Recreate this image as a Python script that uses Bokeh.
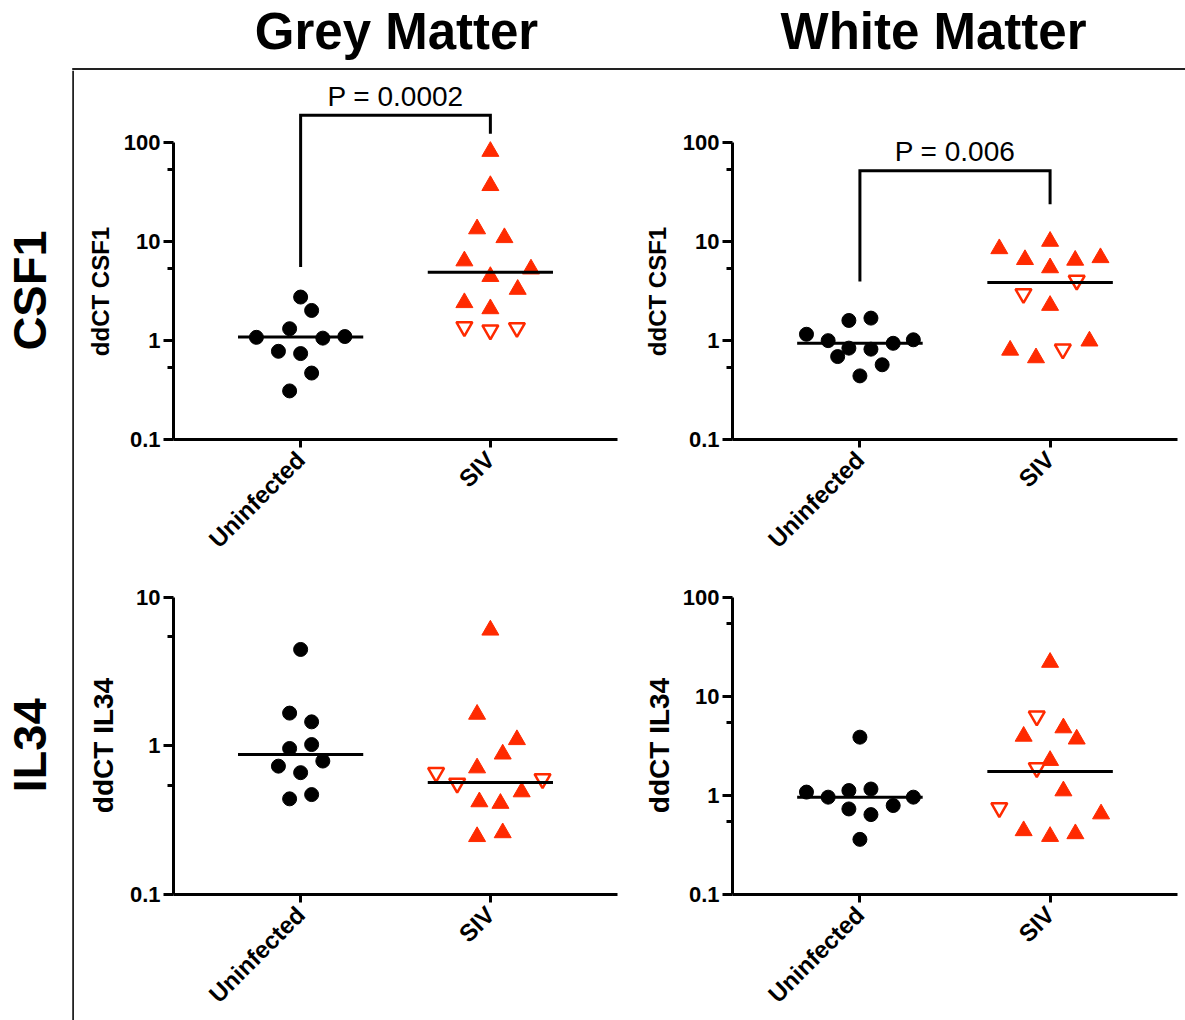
import numpy as np
from bokeh.plotting import figure
from bokeh.layouts import row, column
from bokeh.models import Range1d, FixedTicker, CustomJSTickFormatter
from bokeh.core.properties import value
from bokeh.embed import file_html
from bokeh.resources import INLINE

# ---------------- data ----------------
categories = ["Uninfected", "SIV"]
col_titles = ["Grey Matter", "White Matter"]
row_titles = ["CSF1", "IL34"]
y_labels_left = ["ddCT CSF1", "ddCT IL34"]     # Grey Matter column (top, bottom)
y_labels_right = ["ddCT CSF1", "ddCT IL34"]    # White Matter column (top, bottom)
y_tick_values = [0.1, 1, 10, 100]
y_tick_labels = ["0.1", "1", "10", "100"]

# Grey Matter / CSF1
gm_csf1_uninf = [2.76, 2.02, 1.32, 1.08, 1.06, 1.10, 0.78, 0.74, 0.47, 0.31]
gm_csf1_uninf_dx = [0.0, 0.058, -0.058, -0.233, 0.117, 0.233, -0.117, 0.0, 0.058, -0.058]
gm_csf1_siv_up = [82.0, 37.0, 13.5, 11.0, 6.4, 5.3, 4.45, 3.3, 2.42, 2.1]
gm_csf1_siv_up_dx = [0.0, 0.0, -0.07, 0.074, -0.137, 0.214, 0.0, 0.144, -0.137, 0.0]
gm_csf1_siv_open = [1.38, 1.28, 1.35]
gm_csf1_siv_open_dx = [-0.137, 0.0, 0.14]
gm_csf1_medians = [1.09, 4.91]
gm_csf1_bracket = [5.56, 190.0, 124.0]   # left end, top, right end
gm_csf1_p = ("P = 0.0002", 292.0)

# White Matter / CSF1
wm_csf1_uninf = [1.60, 1.69, 1.16, 1.00, 0.94, 1.02, 0.84, 0.82, 0.69, 0.57, 0.44]
wm_csf1_uninf_dx = [-0.058, 0.058, -0.281, -0.167, 0.175, 0.281, -0.058, 0.058, -0.117, 0.117, 0.0]
wm_csf1_siv_up = [10.1, 8.5, 6.6, 6.5, 6.9, 5.45, 2.27, 0.80, 0.67, 0.99]
wm_csf1_siv_up_dx = [0.0, -0.267, -0.132, 0.132, 0.265, 0.0, 0.0, -0.21, -0.074, 0.207]
wm_csf1_siv_open = [2.98, 4.06, 0.82]
wm_csf1_siv_open_dx = [-0.14, 0.14, 0.067]
wm_csf1_medians = [0.94, 3.87]
wm_csf1_bracket = [3.96, 52.2, 24.0]
wm_csf1_p = ("P = 0.006", 81.0)

# Grey Matter / IL34
gm_il34_uninf = [4.45, 1.66, 1.45, 0.96, 1.02, 0.73, 0.79, 0.66, 0.44, 0.47]
gm_il34_uninf_dx = [0.0, -0.058, 0.058, -0.058, 0.058, -0.117, 0.117, 0.0, -0.058, 0.058]
gm_il34_siv_up = [6.0, 1.63, 1.10, 0.88, 0.71, 0.49, 0.42, 0.41, 0.245, 0.26]
gm_il34_siv_up_dx = [0.0, -0.07, 0.14, 0.065, -0.07, 0.165, -0.058, 0.053, -0.07, 0.065]
gm_il34_siv_open = [0.66, 0.56, 0.60]
gm_il34_siv_open_dx = [-0.286, -0.175, 0.275]
gm_il34_medians = [0.875, 0.566]

# White Matter / IL34
wm_il34_uninf = [3.87, 1.08, 0.96, 1.12, 1.16, 0.96, 0.73, 0.79, 0.64, 0.36]
wm_il34_uninf_dx = [0.0, -0.281, -0.167, -0.058, 0.058, 0.281, -0.058, 0.175, 0.058, 0.0]
wm_il34_siv_up = [22.0, 4.8, 3.95, 3.7, 2.25, 1.11, 0.65, 0.44, 0.385, 0.41]
wm_il34_siv_up_dx = [0.0, 0.07, -0.139, 0.14, 0.0, 0.07, 0.268, -0.139, 0.0, 0.133]
wm_il34_siv_open = [6.3, 1.9, 0.75]
wm_il34_siv_open_dx = [-0.07, -0.07, -0.267]
wm_il34_medians = [0.96, 1.74]

# ---------------- style ----------------
RED = "#FF2A00"
FONT = "Liberation Sans"
MINOR_FACTOR = 0.54


def make_panel(width, height, borders, y_top, axis_max,
               uninf, uninf_dx, siv_up, siv_up_dx, siv_open, siv_open_dx,
               medians, bracket=None, ptext=None):
    left, right, top, bottom = borders
    p = figure(width=width, height=height, output_backend="svg", toolbar_location=None,
               x_range=Range1d(-0.67, 1.67), y_range=Range1d(0.1, y_top),
               y_axis_type="log",
               min_border_left=left, min_border_right=right,
               min_border_top=top, min_border_bottom=bottom)
    p.outline_line_color = None
    p.grid.visible = False
    p.background_fill_color = "white"
    p.border_fill_color = "white"

    # x axis
    xa = p.xaxis[0]
    xa.ticker = FixedTicker(ticks=list(range(len(categories))))
    xa.formatter = CustomJSTickFormatter(args=dict(labels=categories),
                                         code="const i = Math.round(tick); return labels[i] || '';")
    xa.major_label_orientation = np.pi / 4
    xa.axis_line_width = 3
    xa.major_tick_line_width = 3
    xa.major_tick_out = 8
    xa.major_tick_in = 0
    xa.major_label_standoff = 8
    xa.major_label_text_font = FONT
    xa.major_label_text_font_style = "bold"
    xa.major_label_text_font_size = "24px"
    xa.major_label_text_color = "black"
    xa.axis_line_color = "black"

    # y axis
    ya = p.yaxis[0]
    majors = [v for v in y_tick_values if v <= axis_max * 1.0001]
    minors = [v * MINOR_FACTOR for v in y_tick_values[1:] if v <= axis_max * 1.0001]
    ya.ticker = FixedTicker(ticks=majors, minor_ticks=minors)
    ya.formatter = CustomJSTickFormatter(args=dict(labels=y_tick_labels, vals=y_tick_values),
                                         code="""
        for (let i = 0; i < vals.length; i++) {
            if (Math.abs(Math.log10(tick) - Math.log10(vals[i])) < 1e-6) return labels[i];
        }
        return '';""")
    ya.bounds = (y_tick_values[0], axis_max)
    ya.axis_line_width = 3
    ya.major_tick_line_width = 3
    ya.minor_tick_line_width = 3
    ya.major_tick_out = 10
    ya.major_tick_in = 0
    ya.minor_tick_out = 6
    ya.minor_tick_in = 0
    ya.major_label_standoff = 3
    ya.major_label_text_font = FONT
    ya.major_label_text_font_style = "bold"
    ya.major_label_text_font_size = "22px"
    ya.major_label_text_color = "black"
    ya.axis_line_color = "black"

    # points
    p.scatter(x=np.array(uninf_dx) + 0, y=uninf, marker="circle", size=14,
              fill_color="black", line_color="black")
    p.scatter(x=np.array(siv_up_dx) + 1, y=siv_up, marker="triangle", size=17,
              fill_color=RED, line_color=RED)
    p.scatter(x=np.array(siv_open_dx) + 1, y=siv_open, marker="inverted_triangle", size=16,
              fill_color="white", line_color=RED, line_width=2.5)

    # medians
    half = 0.33
    idx = np.arange(len(categories))
    p.segment(x0=idx - half, x1=idx + half, y0=medians, y1=medians,
              line_width=3, line_color="black")

    if bracket is not None:
        p.line(x=[0, 0, 1, 1], y=[bracket[0], bracket[1], bracket[1], bracket[2]],
               line_width=3, line_color="black", line_join="miter")
    if ptext is not None:
        p.text(x=[0.5], y=[ptext[1]], text=[ptext[0]], text_font=value(FONT),
               text_font_size="28px", text_align="center", text_baseline="middle",
               text_color="black")
    return p


p1 = make_panel(513, 510, (53, 16, 10, 141), 428.0, 100,
                gm_csf1_uninf, gm_csf1_uninf_dx, gm_csf1_siv_up, gm_csf1_siv_up_dx,
                gm_csf1_siv_open, gm_csf1_siv_open_dx, gm_csf1_medians,
                gm_csf1_bracket, gm_csf1_p)
p2 = make_panel(506, 510, (53, 8, 10, 141), 428.0, 100,
                wm_csf1_uninf, wm_csf1_uninf_dx, wm_csf1_siv_up, wm_csf1_siv_up_dx,
                wm_csf1_siv_open, wm_csf1_siv_open_dx, wm_csf1_medians,
                wm_csf1_bracket, wm_csf1_p)
p3 = make_panel(513, 440, (53, 16, 10, 126), 11.09, 10,
                gm_il34_uninf, gm_il34_uninf_dx, gm_il34_siv_up, gm_il34_siv_up_dx,
                gm_il34_siv_open, gm_il34_siv_open_dx, gm_il34_medians)
p4 = make_panel(506, 440, (53, 8, 10, 126), 116.9, 100,
                wm_il34_uninf, wm_il34_uninf_dx, wm_il34_siv_up, wm_il34_siv_up_dx,
                wm_il34_siv_open, wm_il34_siv_open_dx, wm_il34_medians)


def strip(width, height):
    s = figure(width=width, height=height, output_backend="svg", toolbar_location=None,
               x_range=Range1d(0, width), y_range=Range1d(height, 0),
               x_axis_location=None, y_axis_location=None, min_border=0)
    s.outline_line_color = None
    s.grid.visible = False
    return s


# header strip with column titles
head = strip(1185, 70)
head.text(x=[396, 933], y=[31, 31], text=col_titles, text_font=value(FONT),
          text_font_style="bold", text_font_size="51px", text_align="center",
          text_baseline="middle", text_color="black")
head.segment(x0=[72.7], x1=[1185], y0=[68.5], y1=[68.5], line_width=2, line_color="#222222")
head.segment(x0=[72.7], x1=[72.7], y0=[67.5], y1=[70], line_width=2, line_color="#222222")

# side strip with row titles
side = strip(74, 950)
side.text(x=[29, 29], y=[220, 675], text=row_titles, text_font=value(FONT),
          text_font_style="bold", text_font_size="47px", text_align="center",
          text_baseline="middle", angle=np.pi / 2, text_color="black")
side.segment(x0=[72.7], x1=[72.7], y0=[0], y1=[950], line_width=2, line_color="#222222")

# y-axis titles, centred on the drawn axes
ylab_l = strip(46, 950)
ylab_l.text(x=[26, 29], y=[221, 675], text=y_labels_left, text_font=value(FONT),
            text_font_style="bold", text_font_size=["24px", "28px"], text_align="center",
            text_baseline="middle", angle=np.pi / 2, text_color="black")
ylab_r = strip(46, 950)
ylab_r.text(x=[24, 26], y=[221, 675], text=y_labels_right, text_font=value(FONT),
            text_font_style="bold", text_font_size=["24px", "28px"], text_align="center",
            text_baseline="middle", angle=np.pi / 2, text_color="black")

layout = column(head, row(side, ylab_l, column(p1, p3), ylab_r, column(p2, p4)))

open("out.html", "w").write(file_html(layout, INLINE))
